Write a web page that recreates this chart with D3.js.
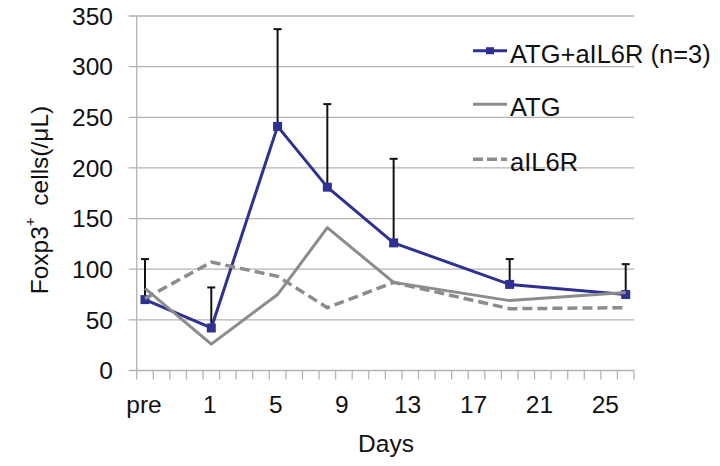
<!DOCTYPE html>
<html>
<head>
<meta charset="utf-8">
<script src="https://cdn.jsdelivr.net/npm/d3@7"></script>
<style>
  html, body { margin: 0; padding: 0; background: #fff; }
  text { font-family: "Liberation Sans", Arial, sans-serif; fill: #111; }
</style>
</head>
<body>
<svg id="chart" width="720" height="466"></svg>
<script>
// ---------- data ----------
const categories = ["pre","-2","-1","0","1","2","3","4","5","6","7","8","9","10","11","12",
  "13","14","15","16","17","18","19","20","21","22","23","24","25","26"];
const tickLabels = ["pre","1","5","9","13","17","21","25"];
const yTicks = [0, 50, 100, 150, 200, 250, 300, 350];

const days = ["pre","1","5","8","12","19","26"];
const atgAil6r = [70, 42, 241, 181, 126, 85, 75];
const atgAil6rErr = [40, 40, 96, 82, 83, 25, 30];
const atg = [81, 26, 75, 141, 87, 69, 77];
const ail6r = [71, 107, 93, 62, 87, 61, 62];

const seriesNames = ["ATG+aIL6R (n=3)", "ATG", "aIL6R"];

// ---------- layout ----------
const svg = d3.select("#chart");
const pLeft = 136.7, pRight = 634, pTop = 16, pBottom = 370.5;
const fontSize = 24.5, legFont = 25.5;
const blue = "#2E3192", grey = "#8C8C8C", gridC = "#B3B3B3";

const x = d3.scaleBand().domain(categories).range([pLeft, pRight]);
const y = d3.scaleLinear().domain([0, 350]).range([pBottom, pTop]);
const cx = c => x(c) + x.bandwidth() / 2;

// gridlines + y tick labels
svg.append("g").selectAll("line").data(yTicks).join("line")
  .attr("x1", pLeft - 8).attr("x2", pRight)
  .attr("y1", d => y(d)).attr("y2", d => y(d))
  .attr("stroke", gridC).attr("stroke-width", 1.3);
svg.append("g").selectAll("text").data(yTicks).join("text")
  .attr("x", 113).attr("y", d => y(d)).attr("dy", "0.36em")
  .attr("text-anchor", "end").attr("font-size", fontSize).text(d => d);

// axes lines
svg.append("line").attr("x1", pLeft).attr("x2", pLeft).attr("y1", pTop).attr("y2", pBottom)
  .attr("stroke", gridC).attr("stroke-width", 1.3);
// x category ticks
const bounds = categories.map(c => x(c)).concat([pRight]);
svg.append("g").selectAll("line").data(bounds).join("line")
  .attr("x1", d => d).attr("x2", d => d).attr("y1", pBottom).attr("y2", pBottom + 9)
  .attr("stroke", gridC).attr("stroke-width", 1.3);
// x tick labels
svg.append("g").selectAll("text").data(tickLabels).join("text")
  .attr("x", (d, i) => cx(d) - 1 - i * 0.4).attr("y", 413)
  .attr("text-anchor", "middle").attr("font-size", fontSize).text(d => d);

// axis titles
svg.append("text").attr("x", 386).attr("y", 452).attr("text-anchor", "middle")
  .attr("font-size", fontSize).text("Days");
const yt = svg.append("text").attr("transform", "translate(48,200) rotate(-90)")
  .attr("text-anchor", "middle").attr("font-size", fontSize);
yt.append("tspan").text("Foxp3");
yt.append("tspan").attr("dy", -13).attr("font-size", 15).text("+");
yt.append("tspan").attr("dy", 13).text("\u2009 cells(/\u03BCL)");

// series
const line = d3.line().x((d, i) => cx(days[i])).y(d => y(d));

// error bars (upper)
const eb = svg.append("g");
atgAil6r.forEach((v, i) => {
  const xx = cx(days[i]);
  eb.append("line").attr("x1", xx).attr("x2", xx).attr("y1", y(v)).attr("y2", y(v + atgAil6rErr[i]))
    .attr("stroke", "#111").attr("stroke-width", 2);
  eb.append("line").attr("x1", xx - 4).attr("x2", xx + 4)
    .attr("y1", y(v + atgAil6rErr[i])).attr("y2", y(v + atgAil6rErr[i]))
    .attr("stroke", "#111").attr("stroke-width", 2);
});

svg.append("path").datum(atgAil6r).attr("d", line).attr("fill", "none")
  .attr("stroke", blue).attr("stroke-width", 3).attr("stroke-linejoin", "round");
svg.append("g").selectAll("rect").data(atgAil6r).join("rect")
  .attr("x", (d, i) => cx(days[i]) - 4.5).attr("y", d => y(d) - 4.5)
  .attr("width", 9).attr("height", 9).attr("fill", blue);

svg.append("path").datum(atg).attr("d", line).attr("fill", "none")
  .attr("stroke", grey).attr("stroke-width", 3).attr("stroke-linejoin", "round");
svg.append("path").datum(ail6r).attr("d", line).attr("fill", "none")
  .attr("stroke", grey).attr("stroke-width", 3.5).attr("stroke-dasharray", "10,5");

// legend
const lg = svg.append("g");
const legY = [50.7, 104.3, 159.3];
const legStyles = [
  {stroke: blue, dash: null, w: 3, marker: true},
  {stroke: grey, dash: null, w: 3, marker: false},
  {stroke: grey, dash: "10,4", w: 3.5, marker: false}
];
seriesNames.forEach((name, i) => {
  const s = legStyles[i];
  const l = lg.append("line").attr("x1", 473).attr("x2", 507).attr("y1", legY[i]).attr("y2", legY[i])
    .attr("stroke", s.stroke).attr("stroke-width", s.w);
  if (s.dash) l.attr("stroke-dasharray", s.dash);
  if (s.marker) lg.append("rect").attr("x", 486).attr("y", legY[i] - 3.5).attr("width", 8).attr("height", 7).attr("fill", blue);
  lg.append("text").attr("x", 510).attr("y", legY[i] + 12)
    .attr("font-size", legFont).text(name);
});
</script>
</body>
</html>
